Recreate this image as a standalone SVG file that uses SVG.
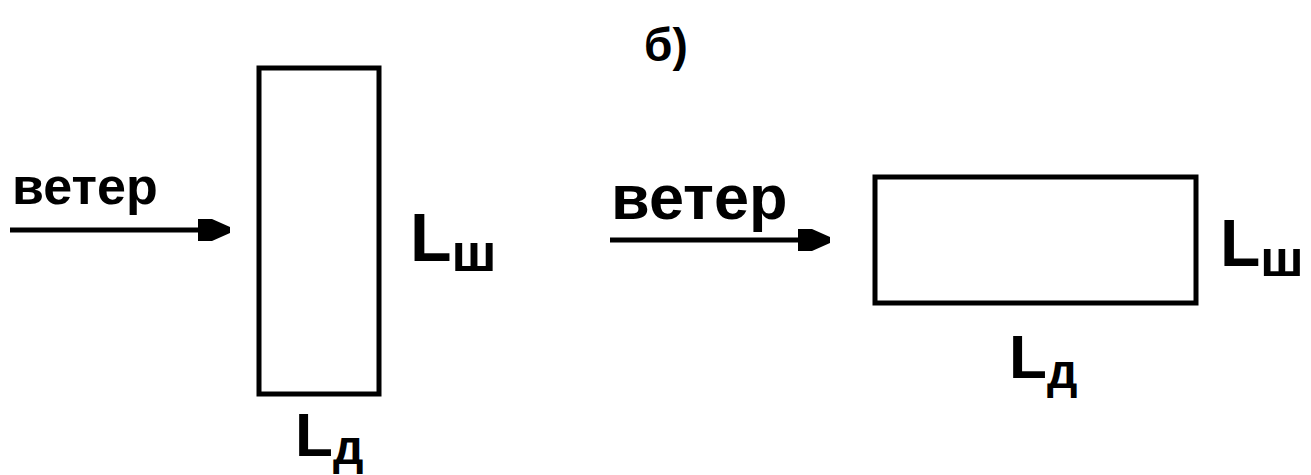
<svg xmlns="http://www.w3.org/2000/svg" width="1311" height="475" viewBox="0 0 1311 475">
<defs>
<style>
.box{fill:none;stroke:#000;stroke-width:5}
.t{font-family:"Liberation Sans",Arial,sans-serif;font-weight:bold;fill:#000}
.wire{stroke:#000;stroke-width:5;fill:none}
</style>
<marker id="ah" markerUnits="userSpaceOnUse" markerWidth="36" markerHeight="26" refX="32" refY="13" orient="auto" viewBox="0 0 36 26">
<path d="M0,2 L14,2 L32,10 L32,16 L14,24 L0,24 Z" fill="#000"/>
</marker>
</defs>
<rect width="1311" height="475" fill="#fff"/>
<g id="label-b"><text class="t" x="644" y="61" font-size="46">б)</text></g>
<g id="connectors">
<line class="wire" x1="10" y1="230" x2="230" y2="230" marker-end="url(#ah)"/>
<line class="wire" x1="610" y1="240" x2="830" y2="240" marker-end="url(#ah)"/>
</g>
<g id="wind-a"><text class="t" x="12" y="204" font-size="52">ветер</text></g>
<g id="wind-b"><text class="t" x="611" y="219" font-size="63">ветер</text></g>
<g id="rect-a"><rect class="box" x="259" y="68" width="120" height="326"/></g>
<g id="rect-b"><rect class="box" x="875" y="177" width="321" height="126"/></g>
<g id="lsh-a"><text class="t" x="410" y="261" font-size="68">L<tspan font-size="54" dy="10">ш</tspan></text></g>
<g id="ld-a"><text class="t" x="295" y="456" font-size="62">L<tspan font-size="48" dy="8">д</tspan></text></g>
<g id="lsh-b"><text class="t" x="1220" y="266" font-size="66">L<tspan font-size="52" dy="10">ш</tspan></text></g>
<g id="ld-b"><text class="t" x="1009" y="378" font-size="62">L<tspan font-size="48" dy="10">д</tspan></text></g>
</svg>
